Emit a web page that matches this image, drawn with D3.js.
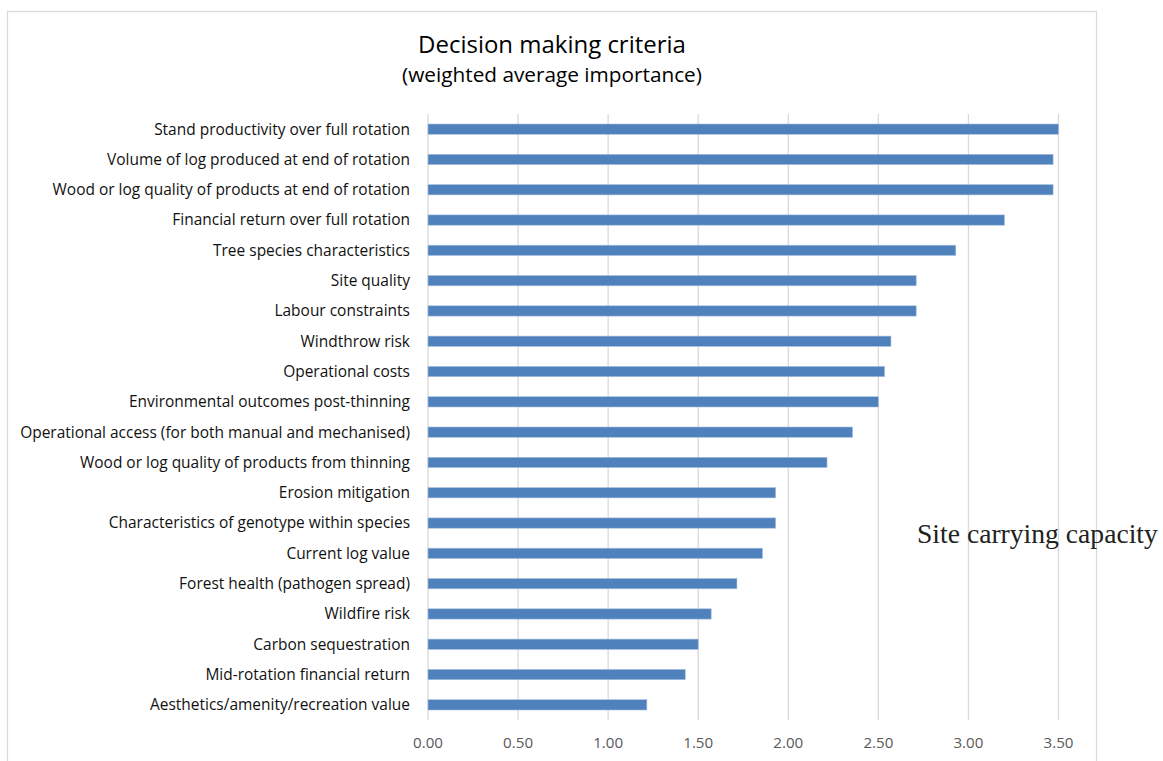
<!DOCTYPE html>
<html><head><meta charset="utf-8">
<script src="https://cdn.jsdelivr.net/npm/d3@7"></script>
<style>body{margin:0;background:#fff}svg{display:block}</style>
</head><body>
<svg id="c" width="1163" height="761"></svg>
<script>
const categories = [
  "Stand productivity over full rotation",
  "Volume of log produced at end of rotation",
  "Wood or log quality of products at end of rotation",
  "Financial return over full rotation",
  "Tree species characteristics",
  "Site quality",
  "Labour constraints",
  "Windthrow risk",
  "Operational costs",
  "Environmental outcomes post-thinning",
  "Operational access (for both manual and mechanised)",
  "Wood or log quality of products from thinning",
  "Erosion mitigation",
  "Characteristics of genotype within species",
  "Current log value",
  "Forest health (pathogen spread)",
  "Wildfire risk",
  "Carbon sequestration",
  "Mid-rotation financial return",
  "Aesthetics/amenity/recreation value"
];
const values = [3.50, 3.47, 3.47, 3.20, 2.93, 2.71, 2.71, 2.57, 2.535, 2.50, 2.357, 2.215, 1.93, 1.93, 1.857, 1.715, 1.572, 1.50, 1.428, 1.215];
const tickValues = [0, 0.5, 1.0, 1.5, 2.0, 2.5, 3.0, 3.5];
const titleText = "Decision making criteria";
const subtitleText = "(weighted average importance)";
const annotationText = "Site carrying capacity";

const svg = d3.select("#c");
const x = d3.scaleLinear().domain([0, 3.5]).range([428, 1058.5]);
const y = d3.scaleBand().domain(categories).range([114, 720]).paddingInner(0.66).paddingOuter(0.33);

// outer border
svg.append("rect").attr("x", 7.5).attr("y", 11.5).attr("width", 1089).attr("height", 800)
  .attr("fill", "none").attr("stroke", "#d9d9d9").attr("stroke-width", 1.2);

function fit(sel, target) {
  const w = sel.node().getComputedTextLength();
  const fs = parseFloat(sel.attr("font-size"));
  sel.attr("font-size", fs * target / w);
}

// gridlines
svg.append("g").selectAll("line").data(tickValues).join("line")
  .attr("x1", d => x(d)).attr("x2", d => x(d))
  .attr("y1", 114).attr("y2", 720)
  .attr("stroke", "#d9d9d9").attr("stroke-width", 1.3);

// bars
svg.append("g").selectAll("rect").data(values).join("rect")
  .attr("x", x(0))
  .attr("y", (d, i) => y(categories[i]))
  .attr("width", d => x(d) - x(0))
  .attr("height", y.bandwidth())
  .attr("fill", "#4f81bd")
  .attr("stroke", "#a7c0de").attr("stroke-width", 0.6);

// category labels
const lab = svg.append("g").selectAll("text").data(categories).join("text")
  .attr("x", 410)
  .attr("y", d => y(d) + y.bandwidth() / 2)
  .attr("dy", "0.35em")
  .attr("text-anchor", "end")
  .attr("font-family", "'Open Sans', sans-serif")
  .attr("font-size", 14)
  .attr("fill", "#111")
  .text(d => d);
// scale to match longest label width
{
  const n = lab.nodes()[10];
  const w = n.getComputedTextLength();
  lab.attr("font-size", 14 * 390 / w);
}

// x tick labels
const xt = svg.append("g").selectAll("text").data(tickValues).join("text")
  .attr("x", d => x(d)).attr("y", 743).attr("dy", "0.35em")
  .attr("text-anchor", "middle")
  .attr("font-family", "'Open Sans', sans-serif")
  .attr("font-size", 13.5)
  .attr("fill", "#595959")
  .text(d => d3.format(".2f")(d));
{
  const n = xt.nodes()[0];
  const w = n.getComputedTextLength();
  xt.attr("font-size", 13.5 * 30 / w);
}

// titles
const t1 = svg.append("text").attr("x", 552).attr("y", 53).attr("text-anchor", "middle")
  .attr("font-family", "'Open Sans', sans-serif").attr("font-size", 22).attr("fill", "#000")
  .text(titleText);
fit(t1, 268);
const t2 = svg.append("text").attr("x", 552).attr("y", 82).attr("text-anchor", "middle")
  .attr("font-family", "'Open Sans', sans-serif").attr("font-size", 19).attr("fill", "#000")
  .text(subtitleText);
fit(t2, 300);

// annotation
const an = svg.append("text").attr("x", 917).attr("y", 543)
  .attr("font-family", "'Liberation Serif', serif").attr("font-size", 25).attr("fill", "#222")
  .text(annotationText);
fit(an, 241);
</script>
</body></html>
